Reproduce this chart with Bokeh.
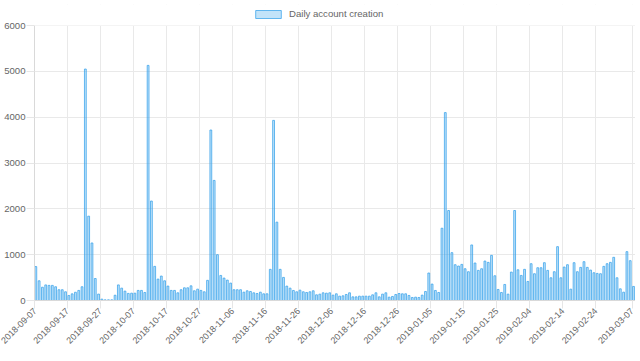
from bokeh.plotting import figure
from bokeh.models import (Legend, LegendItem, FixedTicker, Range1d,
                          ColumnDataSource, BoxAnnotation)
from bokeh.embed import file_html
from bokeh.resources import INLINE

# daily account creation, one value per day from 2018-09-07 to 2019-03-07
counts = [
    740, 430, 290, 340, 330, 330, 300, 235, 235, 190, 110, 145, 180, 220, 300,
    5050, 1840, 1255, 480, 140, 30, 15, 15, 15, 115, 340, 270, 205, 155, 160,
    160, 220, 220, 175, 5130, 2170,
    745, 467, 533, 430, 315, 220, 220, 168, 235, 277, 277, 320, 212, 248, 220,
    190, 440,
    3720, 2620, 1000,
    547, 489, 445, 380, 235, 235, 235, 182, 212, 197, 168, 153, 182, 146, 146,
    680, 3930, 1710,
    680, 504, 314, 270, 219, 190, 226, 190, 175, 190, 212, 124, 139, 168, 160,
    168, 117, 146, 95, 102, 131, 168, 80, 80, 95, 95, 95, 95, 124, 168, 80, 139,
    168, 73,
    88, 131, 153, 146, 146, 110, 66, 73, 66, 117, 197, 600, 358, 219, 175,
    1577, 4100, 1963, 1044, 781, 752, 788, 693, 628, 1212, 818, 657, 693, 861,
    832, 985, 540, 241, 175, 350, 139, 620,
    1963, 670, 547, 680, 416, 803, 584, 715, 715, 825, 657, 496, 628, 1175, 496,
    730, 781, 248, 825, 628, 723, 847, 723, 664, 606, 591, 584, 745, 803, 832,
    942, 496, 255, 182, 1066, 869, 307,
]
day_index = list(range(len(counts)))

tick_days = [0, 10, 20, 30, 40, 50, 60, 70, 80, 90, 100, 110, 120, 130, 140,
             150, 160, 170, 181]
tick_labels = ["2018-09-07", "2018-09-17", "2018-09-27", "2018-10-07",
               "2018-10-17", "2018-10-27", "2018-11-06", "2018-11-16",
               "2018-11-26", "2018-12-06", "2018-12-16", "2018-12-26",
               "2019-01-05", "2019-01-15", "2019-01-25", "2019-02-04",
               "2019-02-14", "2019-02-24", "2019-03-07"]
y_ticks = [0, 1000, 2000, 3000, 4000, 5000, 6000]
y_max = 6000
series_name = "Daily account creation"

src = ColumnDataSource(dict(x=[d + 0.4 for d in day_index], top=counts))

# frame spans page y 4..300; value 6000 lands at page y 25
FRAME_H = 296
PLOT_H = 275
p = figure(frame_width=601, frame_height=FRAME_H, output_backend="svg",
           toolbar_location=None,
           x_range=Range1d(0, len(counts)),
           y_range=Range1d(0, y_max * FRAME_H / PLOT_H),
           min_border_left=34, min_border_right=0, min_border_top=4,
           min_border_bottom=56)
p.outline_line_color = None

r = p.vbar(x="x", top="top", width=0.55, source=src,
           fill_color="#36a2eb", fill_alpha=0.3,
           line_color="#36a2eb", line_alpha=0.75, line_width=1)

font = "Liberation Sans"
for ax in (p.xaxis[0], p.yaxis[0]):
    ax.major_label_text_font = font
    ax.major_label_text_font_size = "9.6px"
    ax.major_label_text_color = "#666666"
    ax.axis_line_color = "#d9d9d9"
    ax.major_tick_line_color = "#e6e6e6"
    ax.major_tick_out = 8
    ax.major_tick_in = 0
    ax.minor_tick_line_color = None
    ax.major_label_standoff = 1

p.xaxis.major_label_text_font_size = "9px"
p.yaxis.bounds = (0, y_max)
p.xaxis.ticker = FixedTicker(ticks=tick_days)
p.xaxis.major_label_overrides = {d: l for d, l in zip(tick_days, tick_labels)}
p.xaxis.major_label_orientation = 0.785
p.yaxis.ticker = FixedTicker(ticks=y_ticks)
p.xgrid.ticker = FixedTicker(ticks=tick_days)
p.xgrid.grid_line_color = "#e9e9e9"
p.ygrid.grid_line_color = "#e9e9e9"

# blank out the grid above the top value
p.add_layout(BoxAnnotation(bottom=y_max, fill_color="white", fill_alpha=1,
                           line_color=None))

legend = Legend(items=[LegendItem(label=series_name, renderers=[r])],
                orientation="horizontal", location=(218, FRAME_H - 15),
                glyph_width=32, glyph_height=10, label_height=10,
                label_text_font=font, label_text_font_size="9.6px",
                label_text_color="#666666", label_standoff=5,
                border_line_color=None, background_fill_alpha=0,
                padding=0, margin=0)
p.add_layout(legend, "center")

open("out.html", "w").write(file_html(p, INLINE))
